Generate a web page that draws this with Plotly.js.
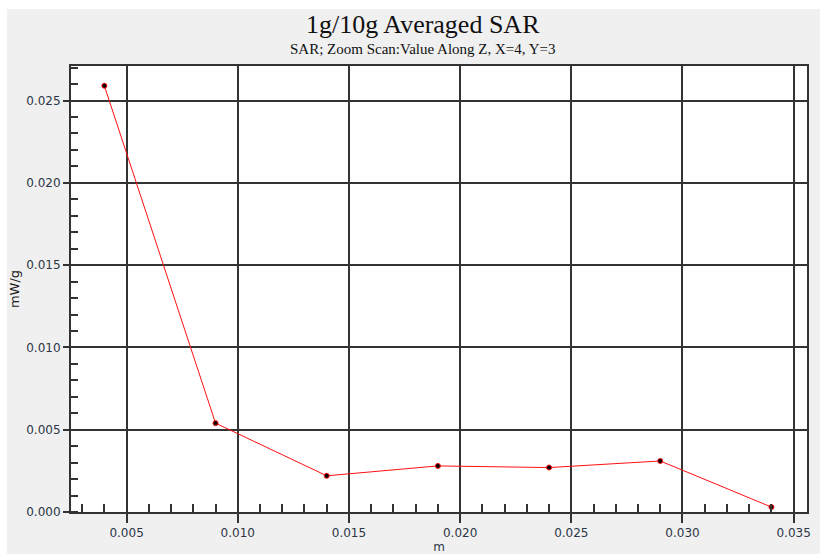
<!DOCTYPE html>
<html>
<head>
<meta charset="utf-8">
<script src="https://cdn.plot.ly/plotly-3.0.1.min.js"></script>
<style>
html,body{margin:0;padding:0;background:#ffffff;}
#chart{position:absolute;left:7px;top:9px;width:813px;height:545px;}
</style>
</head>
<body>
<div id="chart"></div>
<script>
const zPositions = [0.004, 0.009, 0.014, 0.019, 0.024, 0.029, 0.034];
const sarValues = [0.0259, 0.0054, 0.0022, 0.0028, 0.0027, 0.0031, 0.0003];
const titleText = "1g/10g Averaged SAR";
const subtitleText = "SAR; Zoom Scan:Value Along Z, X=4, Y=3";
const xLabel = "m";
const yLabel = "mW/g";

const tickFont = {family: "DejaVu Sans, Verdana, sans-serif", size: 12, color: "#2b3646"};

const trace = {
  x: zPositions,
  y: sarValues,
  type: "scatter",
  mode: "lines+markers",
  line: {color: "#ff1010", width: 1},
  marker: {color: "#000000", size: 5, line: {color: "#ff1010", width: 1}},
  hoverinfo: "skip"
};

const layout = {
  width: 813,
  height: 545,
  paper_bgcolor: "#f0f0f0",
  plot_bgcolor: "#ffffff",
  showlegend: false,
  margin: {l: 63.5, r: 13, t: 57, b: 42},
  xaxis: {
    range: [0.0025, 0.0356],
    tick0: 0, dtick: 0.005,
    tickformat: ".3f",
    ticks: "outside", ticklen: 9, tickcolor: "#333", tickwidth: 2,
    showgrid: true, gridcolor: "#333", gridwidth: 2,
    zeroline: false,
    showline: true, linecolor: "#333", linewidth: 2, mirror: true,
    tickfont: tickFont,
    minor: {dtick: 0.001, tick0: 0, ticks: "inside", ticklen: 8, tickcolor: "#333", tickwidth: 2, showgrid: false},
    title: {text: xLabel, font: {family: "DejaVu Sans, sans-serif", size: 12, color: "#2b3646"}, standoff: 8}
  },
  yaxis: {
    range: [0, 0.0271],
    tick0: 0, dtick: 0.005,
    tickformat: ".3f",
    ticks: "outside", ticklen: 6, tickcolor: "#333", tickwidth: 2,
    showgrid: true, gridcolor: "#333", gridwidth: 2,
    zeroline: false,
    showline: true, linecolor: "#333", linewidth: 2, mirror: true,
    tickfont: tickFont,
    minor: {dtick: 0.001, tick0: 0, ticks: "inside", ticklen: 7, tickcolor: "#333", tickwidth: 2, showgrid: false},
    title: {text: yLabel, font: {family: "DejaVu Sans, sans-serif", size: 13, color: "#1a1a1a"}, standoff: 6}
  },
  annotations: [
    {text: titleText, xref: "paper", yref: "paper", x: 0.4786, y: 1, yshift: 42,
     xanchor: "center", yanchor: "middle", showarrow: false,
     font: {family: "Liberation Serif, Times New Roman, serif", size: 26, color: "#111"}},
    {text: subtitleText, xref: "paper", yref: "paper", x: 0.4786, y: 1, yshift: 17,
     xanchor: "center", yanchor: "middle", showarrow: false,
     font: {family: "Liberation Serif, Times New Roman, serif", size: 15, color: "#111"}}
  ]
};

Plotly.newPlot("chart", [trace], layout, {staticPlot: true, displayModeBar: false});
</script>
</body>
</html>
